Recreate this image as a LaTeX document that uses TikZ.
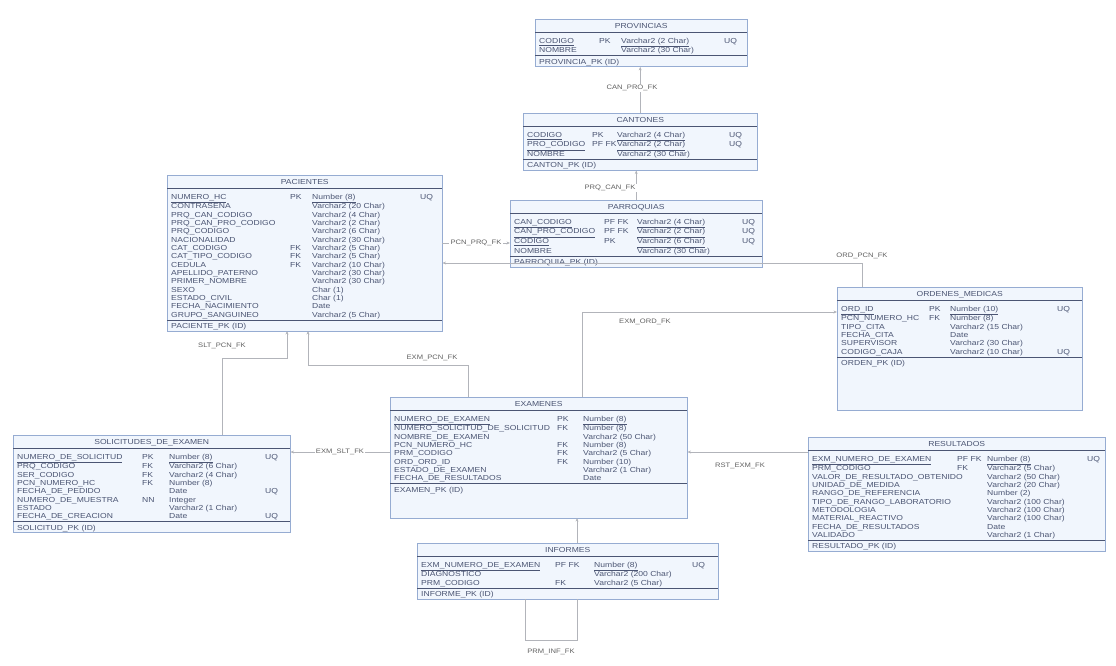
\documentclass[tikz,border=0pt]{standalone}
\usepackage{fontspec}
\setsansfont{Liberation Sans}[FakeStretch=1.18]
\usepackage{array}
\usetikzlibrary{arrows.meta}

% unidad: un pixel de la captura
\newlength\pxl
\setlength\pxl{0.03cm}
% columnas: nombre, clave, tipo, extra
\newenvironment{campos}[4]{\setlength\tabcolsep{0pt}%
  \begin{tabular}{@{\hspace{4\pxl}}p{#1\pxl}p{#2\pxl}p{#3\pxl}p{#4\pxl}@{}}}%
  {\end{tabular}}
\newcommand{\titulo}[1]{\multicolumn{4}{c}{\rule{0pt}{8pt}#1}\\[1pt]\hline\rule{0pt}{9pt}\ignorespaces}
\newcommand{\pie}[2]{\hline\multicolumn{4}{@{\hspace{4\pxl}}l}{\rule[-#2]{0pt}{\dimexpr#2+7pt\relax}#1}}

\definecolor{bordeazul}{RGB}{150,172,210}
\definecolor{fondoazul}{RGB}{241,246,253}
\definecolor{textoazul}{RGB}{75,85,115}
\definecolor{linea}{RGB}{178,180,186}

\tikzset{
  tabla/.style={draw=bordeazul, fill=fondoazul, inner sep=0pt, anchor=north west,
    text=textoazul, font=\sffamily\fontsize{6.2}{7.1}\selectfont},
  fk/.style={draw=linea, line width=0.5pt, -{Stealth[length=3pt,width=2.5pt]}},
  etiqueta/.style={font=\sffamily\fontsize{5.5}{6}\selectfont, text=gray!75!black,
    fill=white, inner sep=1pt}
}

\begin{document}
\begin{tikzpicture}[x=0.03cm, y=-0.03cm]
  \useasboundingbox (0,0) rectangle (1116,665);
  % Tablas
  \node[tabla] (prov) at (535,19) {\begin{campos}{60}{22}{103}{23}
    \titulo{PROVINCIAS}
    \underline{CODIGO} & PK & \underline{Varchar2 (2 Char)} & UQ\\
    NOMBRE & & Varchar2 (30 Char) & \\
    \pie{PROVINCIA\_PK (ID)}{2pt}
  \end{campos}};
  \node[tabla] (cant) at (523,113) {\begin{campos}{65}{25}{112}{28}
    \titulo{CANTONES}
    \underline{CODIGO} & PK & \underline{Varchar2 (4 Char)} & UQ\\
    \underline{PRO\_CODIGO} & PF FK & \underline{Varchar2 (2 Char)} & UQ\\
    NOMBRE & & Varchar2 (30 Char) & \\
    \pie{CANTON\_PK (ID)}{2pt}
  \end{campos}};
  \node[tabla] (parr) at (510,200) {\begin{campos}{90}{33}{105}{20}
    \titulo{PARROQUIAS}
    \underline{CAN\_CODIGO} & PF FK & \underline{Varchar2 (4 Char)} & UQ\\
    \underline{CAN\_PRO\_CODIGO} & PF FK & \underline{Varchar2 (2 Char)} & UQ\\
    \underline{CODIGO} & PK & \underline{Varchar2 (6 Char)} & UQ\\
    NOMBRE & & Varchar2 (30 Char) & \\
    \pie{PARROQUIA\_PK (ID)}{1pt}
  \end{campos}};
  \node[tabla] (pac) at (167,175) {\begin{campos}{119}{22}{108}{22}
    \titulo{PACIENTES}
    \underline{NUMERO\_HC} & PK & \underline{Number (8)} & UQ\\
    CONTRASENA & & Varchar2 (20 Char) & \\
    PRQ\_CAN\_CODIGO & & Varchar2 (4 Char) & \\
    PRQ\_CAN\_PRO\_CODIGO & & Varchar2 (2 Char) & \\
    PRQ\_CODIGO & & Varchar2 (6 Char) & \\
    NACIONALIDAD & & Varchar2 (30 Char) & \\
    CAT\_CODIGO & FK & Varchar2 (5 Char) & \\
    CAT\_TIPO\_CODIGO & FK & Varchar2 (5 Char) & \\
    CEDULA & FK & Varchar2 (10 Char) & \\
    APELLIDO\_PATERNO & & Varchar2 (30 Char) & \\
    PRIMER\_NOMBRE & & Varchar2 (30 Char) & \\
    SEXO & & Char (1) & \\
    ESTADO\_CIVIL & & Char (1) & \\
    FECHA\_NACIMIENTO & & Date & \\
    GRUPO\_SANGUINEO & & Varchar2 (5 Char) & \\
    \pie{PACIENTE\_PK (ID)}{1pt}
  \end{campos}};
  \node[tabla] (ord) at (837,287) {\begin{campos}{88}{21}{107}{25}
    \titulo{ORDENES\_MEDICAS}
    \underline{ORD\_ID} & PK & \underline{Number (10)} & UQ\\
    PCN\_NUMERO\_HC & FK & Number (8) & \\
    TIPO\_CITA & & Varchar2 (15 Char) & \\
    FECHA\_CITA & & Date & \\
    SUPERVISOR & & Varchar2 (30 Char) & \\
    CODIGO\_CAJA & & Varchar2 (10 Char) & UQ\\
    \pie{ORDEN\_PK (ID)}{38pt}
  \end{campos}};
  \node[tabla] (exm) at (390,397) {\begin{campos}{163}{26}{95}{9}
    \titulo{EXAMENES}
    \underline{NUMERO\_DE\_EXAMEN} & PK & \underline{Number (8)} & \\
    NUMERO\_SOLICITUD\_DE\_SOLICITUD & FK & Number (8) & \\
    NOMBRE\_DE\_EXAMEN & & Varchar2 (50 Char) & \\
    PCN\_NUMERO\_HC & FK & Number (8) & \\
    PRM\_CODIGO & FK & Varchar2 (5 Char) & \\
    ORD\_ORD\_ID & FK & Number (10) & \\
    ESTADO\_DE\_EXAMEN & & Varchar2 (1 Char) & \\
    FECHA\_DE\_RESULTADOS & & Date & \\
    \pie{EXAMEN\_PK (ID)}{22pt}
  \end{campos}};
  \node[tabla] (slt) at (13,435) {\begin{campos}{125}{27}{96}{25}
    \titulo{SOLICITUDES\_DE\_EXAMEN}
    \underline{NUMERO\_DE\_SOLICITUD} & PK & \underline{Number (8)} & UQ\\
    PRQ\_CODIGO & FK & Varchar2 (6 Char) & \\
    SER\_CODIGO & FK & Varchar2 (4 Char) & \\
    PCN\_NUMERO\_HC & FK & Number (8) & \\
    FECHA\_DE\_PEDIDO & & Date & UQ\\
    NUMERO\_DE\_MUESTRA & NN & Integer & \\
    ESTADO & & Varchar2 (1 Char) & \\
    FECHA\_DE\_CREACION & & Date & UQ\\
    \pie{SOLICITUD\_PK (ID)}{1pt}
  \end{campos}};
  \node[tabla] (rst) at (808,437) {\begin{campos}{145}{30}{100}{18}
    \titulo{RESULTADOS}
    \underline{EXM\_NUMERO\_DE\_EXAMEN} & PF FK & \underline{Number (8)} & UQ\\
    PRM\_CODIGO & FK & Varchar2 (5 Char) & \\
    VALOR\_DE\_RESULTADO\_OBTENIDO & & Varchar2 (50 Char) & \\
    UNIDAD\_DE\_MEDIDA & & Varchar2 (20 Char) & \\
    RANGO\_DE\_REFERENCIA & & Number (2) & \\
    TIPO\_DE\_RANGO\_LABORATORIO & & Varchar2 (100 Char) & \\
    METODOLOGIA & & Varchar2 (100 Char) & \\
    MATERIAL\_REACTIVO & & Varchar2 (100 Char) & \\
    FECHA\_DE\_RESULTADOS & & Date & \\
    VALIDADO & & Varchar2 (1 Char) & \\
    \pie{RESULTADO\_PK (ID)}{1pt}
  \end{campos}};
  \node[tabla] (inf) at (417,543) {\begin{campos}{134}{39}{98}{26}
    \titulo{INFORMES}
    \underline{EXM\_NUMERO\_DE\_EXAMEN} & PF FK & \underline{Number (8)} & UQ\\
    DIAGNOSTICO & & Varchar2 (200 Char) & \\
    PRM\_CODIGO & FK & Varchar2 (5 Char) & \\
    \pie{INFORME\_PK (ID)}{1pt}
  \end{campos}};
  % Puntos de quiebre
  \coordinate (c1) at (476,243);
  \coordinate (c2) at (862,263);
  \coordinate (c3) at (582,312);
  \coordinate (c4) at (308,365);
  \coordinate (c5) at (468,365);
  \coordinate (c6) at (287,358);
  \coordinate (c7) at (222,358);
  \coordinate (c8) at (340,452);
  \coordinate (c9) at (748,452);
  \coordinate (c10) at (577,525);
  \coordinate (c11) at (525,640);
  \coordinate (c12) at (577,640);
  % Relaciones
  \draw[fk] (cant.north) -- (cant.north |- prov.south);
  \draw[fk] (parr.north) -- (parr.north |- cant.south);
  \draw[fk] (c1 -| pac.east) -- (c1 -| parr.west);
  \draw[fk] (c2 |- ord.north) -- (c2) -- (c2 -| pac.east);
  \draw[fk] (c3 |- exm.north) -- (c3) -- (c3 -| ord.west);
  \draw[fk] (c5 |- exm.north) -- (c5) -- (c4) -- (c4 |- pac.south);
  \draw[fk] (c7 |- slt.north) -- (c7) -- (c6) -- (c6 |- pac.south);
  \draw[fk] (c8 -| exm.west) -- (c8 -| slt.east);
  \draw[fk] (c9 -| rst.west) -- (c9 -| exm.east);
  \draw[fk] (c10 |- inf.north) -- (c10 |- exm.south);
  \draw[draw=linea, line width=0.5pt] (c11 |- inf.south) -- (c11) -- (c12) -- (c12 |- inf.south);
  % Nombres de las claves foraneas
  \node[etiqueta] (l1) at (632,88) {CAN\_PRO\_FK};
  \node[etiqueta] (l2) at (610,188) {PRQ\_CAN\_FK};
  \node[etiqueta] at (c1) {PCN\_PRQ\_FK};
  \node[etiqueta] (l4) at (862,256) {ORD\_PCN\_FK};
  \node[etiqueta] (l5) at (645,322) {EXM\_ORD\_FK};
  \node[etiqueta] (l6) at (432,358) {EXM\_PCN\_FK};
  \node[etiqueta] (l7) at (222,346) {SLT\_PCN\_FK};
  \node[etiqueta] at (c8) {EXM\_SLT\_FK};
  \node[etiqueta] (l9) at (740,466) {RST\_EXM\_FK};
  \node[etiqueta] (l10) at (551,652) {PRM\_INF\_FK};
\end{tikzpicture}
\end{document}
